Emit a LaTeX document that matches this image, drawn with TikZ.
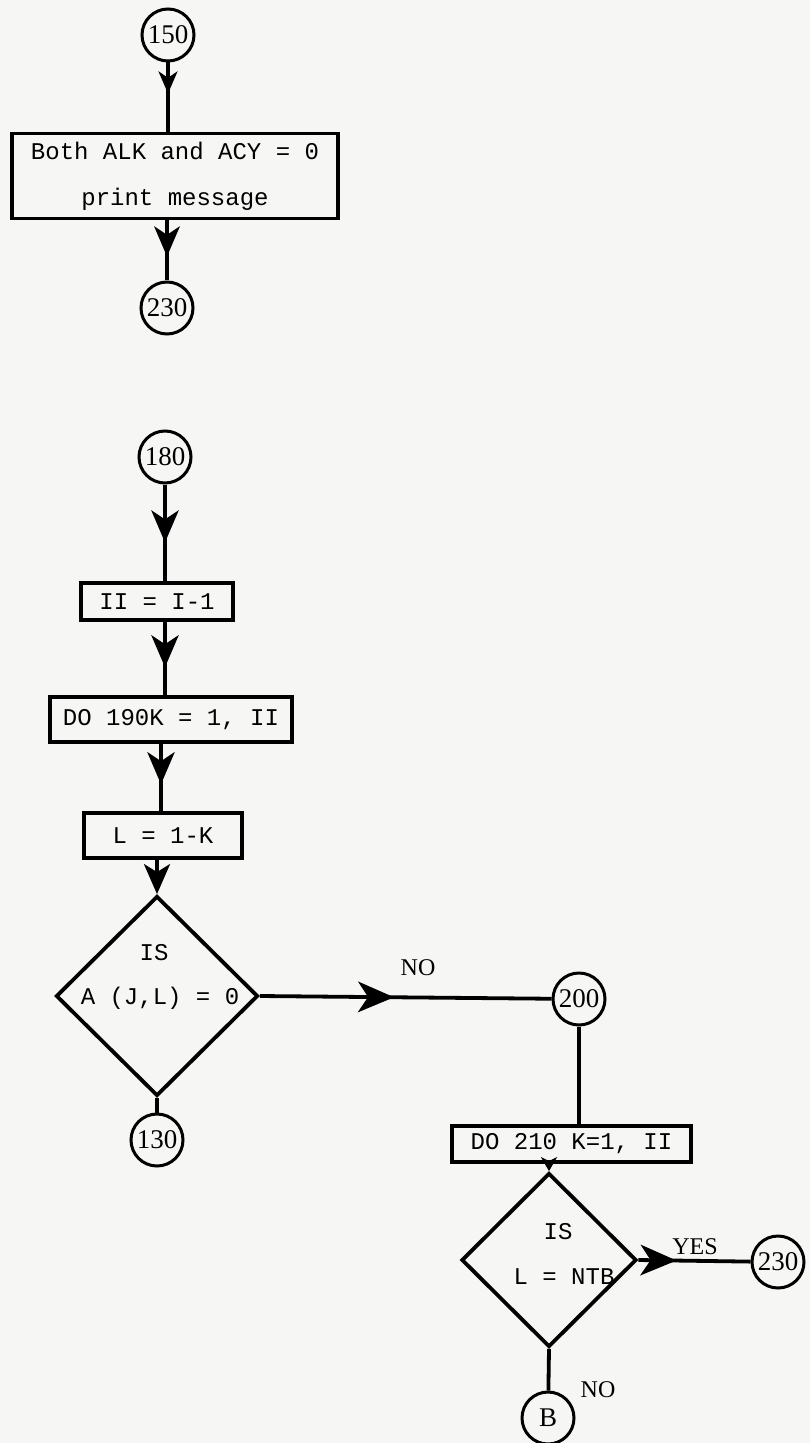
\documentclass[tikz,border=0pt]{standalone}
\usepackage{fontspec}
\setmonofont{Liberation Mono}
\newfontfamily\circfont{Liberation Serif}
\usetikzlibrary{shapes.geometric, arrows.meta, decorations.markings, calc}
\definecolor{bgcol}{RGB}{246,246,244}
\begin{document}
\begin{tikzpicture}[x=0.5pt, y=-0.5pt,
  line width=1.9pt,
  every node/.style={font=\ttfamily\fontsize{12}{14}\selectfont},
  procbox/.style={draw, line width=1.9pt, inner sep=0pt, align=center},
  conn/.style={circle, draw, line width=1.5pt, minimum size=26pt, inner sep=0pt, font=\circfont\fontsize{13.5}{14}\selectfont},
  decision/.style={diamond, draw, line width=1.9pt, inner sep=0pt},
  lbl/.style={font=\circfont\fontsize{12}{14}\selectfont},
  arrowat/.style 2 args={postaction={decorate}, decoration={markings, mark=at position #1 with {\arrow{Stealth[length=#2, width=0.85*#2, inset=0.28*#2]}}}},
]
\fill[bgcol] (0,0) rectangle (810,1443);
\useasboundingbox (0,0) rectangle (810,1443);

% top section
\node[conn] (c150) at (168,35) {150};
\node[procbox, minimum width=163pt, minimum height=42.5pt] (b1) at (175,176) {Both ALK and ACY = 0\\[9pt]print message};
\node[conn] (c230a) at (167,308) {230};
\draw[arrowat={0.45}{11pt}] (c150) -- (c150 |- b1.north);
\draw[arrowat={0.6}{15pt}] (b1.south -| c230a) -- (c230a);

% 180 chain
\node[conn] (c180) at (165,457) {180};
\node[procbox, minimum width=76pt, minimum height=18.5pt] (bII) at (157,601.5) {II = I-1};
\node[procbox, minimum width=121pt, minimum height=22.5pt] (b190) at (171,719.5) {DO 190K = 1, II};
\node[procbox, minimum width=79pt, minimum height=22.5pt] (bL) at (163,835.5) {L = 1-K};
\node[decision, minimum width=101pt, minimum height=100pt] (d1) at (157,996) {};
\node at (154,953) {IS};
\node at (160,998) {A (J,L) = 0};
\node[conn] (c130) at (157,1140) {130};

\draw[arrowat={0.6}{16pt}] (c180) -- (c180 |- bII.north);
\draw[arrowat={0.62}{16pt}] (bII.south -| c180) -- (b190.north -| c180);
\draw[arrowat={0.6}{16pt}] (b190.south -| 161,0) -- (bL.north -| 161,0);
\draw[-{Stealth[length=15pt, width=13pt, inset=4pt]}] (bL.south -| d1) -- (d1.north);
\draw (d1.south) -- (c130);

% NO branch
\node[conn] (c200) at (579,999) {200};
\node[lbl] (no1) at (418,968) {NO};
\draw[arrowat={0.46}{18pt}] (d1.east) -- (c200);

\node[procbox, minimum width=119.5pt, minimum height=18pt] (b210) at (571.5,1144) {DO 210 K=1, II};
\draw (c200) -- (c200 |- b210.north);

\node[decision, minimum width=87.5pt, minimum height=87pt] (d2) at (549,1260) {};
\node at (558,1232) {IS};
\node at (564,1277) {L = NTB};
\draw[-{Stealth[length=7pt, width=8pt, inset=2pt]}] (b210.south -| d2) -- (d2.north);

\node[conn] (c230b) at (778,1262) {230};
\node[lbl] (yes) at (695,1247) {YES};
\draw[arrowat={0.34}{18pt}] (d2.east) -- (c230b);

\node[conn] (cB) at (548,1418) {B};
\node[lbl] (no2) at (598,1390) {NO};
\draw (d2.south) -- (cB);
\end{tikzpicture}
\end{document}
